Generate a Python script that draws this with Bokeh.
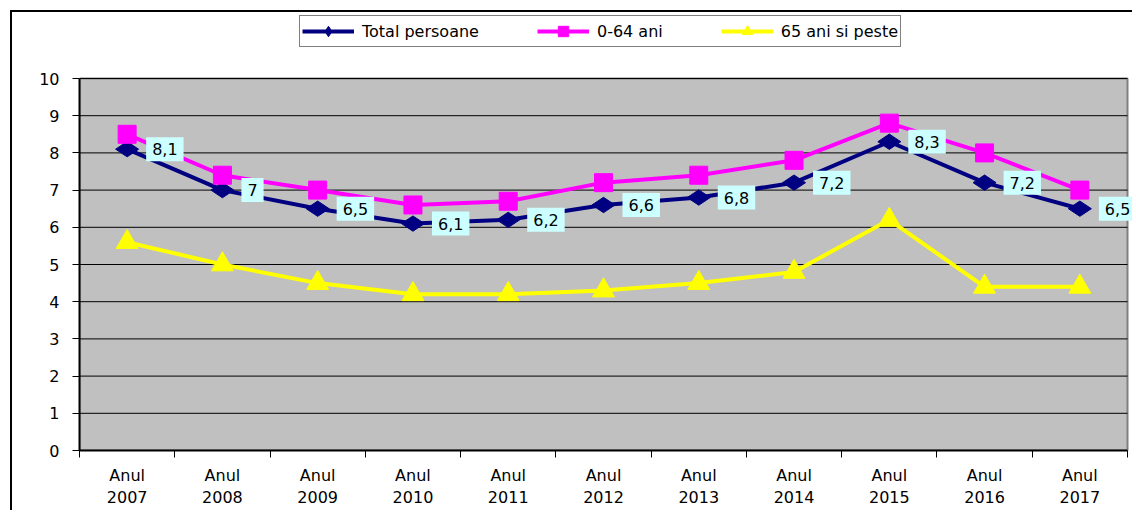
import numpy as np
from bokeh.plotting import figure
from bokeh.models import (FixedTicker, Legend, LegendItem, ColumnDataSource, Range1d)
from bokeh.core.properties import value
from bokeh.embed import file_html
from bokeh.resources import INLINE

years = ["2007", "2008", "2009", "2010", "2011", "2012", "2013", "2014", "2015", "2016", "2017"]
total = [8.1, 7.0, 6.5, 6.1, 6.2, 6.6, 6.8, 7.2, 8.3, 7.2, 6.5]
age_0_64 = [8.5, 7.4, 7.0, 6.6, 6.7, 7.2, 7.4, 7.8, 8.8, 8.0, 7.0]
age_65 = [5.6, 5.0, 4.5, 4.2, 4.2, 4.3, 4.5, 4.8, 6.2, 4.4, 4.4]
series_names = ["Total persoane", "0-64 ani", "65 ani si peste"]
y_ticks = [0, 1, 2, 3, 4, 5, 6, 7, 8, 9, 10]
y_max = 10

FONT = "DejaVu Sans"
FS = "16px"

n = len(years)
xs = list(range(n))

# layout (pixels)
W, H = 1122, 500
LEFT, BOTTOM = 67, 62
PLOT_W, PLOT_H = 1048, 372          # the grey plotting area 0..10
frame_w = W - LEFT
frame_h = H - BOTTOM
x_end = -0.5 + frame_w * n / PLOT_W
y_end = frame_h * y_max / PLOT_H

p = figure(width=W, height=H, output_backend="svg", toolbar_location=None,
           x_range=Range1d(-0.5, x_end), y_range=Range1d(0, y_end),
           min_border_left=LEFT, min_border_right=0, min_border_top=0, min_border_bottom=BOTTOM,
           background_fill_color="white", border_fill_color="white")
p.styles = {"border-left": "2px solid black", "border-top": "2px solid black",
            "margin-left": "10px", "margin-top": "10px"}
p.outline_line_color = None
p.xgrid.visible = False
p.ygrid.visible = False

# grey plot area with grey top/right outline
p.quad(left=[-0.5], right=[n - 0.5], bottom=[0], top=[y_max],
       fill_color="#C0C0C0", line_color="#808080", line_width=2)
# horizontal gridlines
p.segment(x0=[-0.5] * len(y_ticks), x1=[n - 0.5] * len(y_ticks), y0=y_ticks, y1=y_ticks,
          line_color="black", line_width=1)

# y axis
p.yaxis.bounds = (0, y_max)
p.yaxis.ticker = FixedTicker(ticks=y_ticks, minor_ticks=[])
p.yaxis.axis_line_color = "black"
p.yaxis.axis_line_width = 2
p.yaxis.major_tick_out = 7
p.yaxis.major_tick_in = 0
p.yaxis.major_tick_line_color = "black"
p.yaxis.minor_tick_line_color = None
p.yaxis.major_label_standoff = 13
p.yaxis.major_label_text_font = FONT
p.yaxis.major_label_text_font_size = FS
p.yaxis.major_label_text_color = "black"

# x axis
p.xaxis.bounds = (-0.5, n - 0.5)
p.xaxis.ticker = FixedTicker(ticks=xs, minor_ticks=[i - 0.5 for i in range(n + 1)])
p.xaxis.major_label_overrides = {i: "Anul\n" + y for i, y in enumerate(years)}
p.xaxis.axis_line_color = "black"
p.xaxis.axis_line_width = 2
p.xaxis.major_tick_out = 0
p.xaxis.major_tick_in = 0
p.xaxis.minor_tick_out = 7
p.xaxis.minor_tick_in = 0
p.xaxis.minor_tick_line_color = "black"
p.xaxis.major_label_standoff = 8
p.xaxis.major_label_text_font = FONT
p.xaxis.major_label_text_font_size = FS
p.xaxis.major_label_text_color = "black"

src = ColumnDataSource(dict(x=xs, total=total, a=age_0_64, b=age_65,
                            lab=[f"{v:g}".replace(".", ",") for v in total]))

LW = 4
l1 = p.line("x", "total", source=src, line_color="#000080", line_width=LW)
m1 = p.scatter("x", "total", source=src, marker="diamond", size=23, angle=np.pi / 2,
               fill_color="#000080", line_color="#000080")
l2 = p.line("x", "a", source=src, line_color="#FF00FF", line_width=LW)
m2 = p.scatter("x", "a", source=src, marker="square", size=18,
               fill_color="#FF00FF", line_color="#FF00FF")
l3 = p.line("x", "b", source=src, line_color="#FFFF00", line_width=LW)
m3 = p.scatter("x", "b", source=src, marker="triangle", size=22,
               fill_color="#FFFF00", line_color="#FFFF00")

# data labels for total
p.text("x", "total", text="lab", source=src, x_offset=19, y_offset=0,
       text_align="left", text_baseline="middle",
       text_font=value(FONT), text_font_size=FS, text_color="black",
       background_fill_color="#CCFFFF",
       padding=dict(left=6, right=6, top=6, bottom=6))

legend = Legend(items=[LegendItem(label=series_names[0], renderers=[l1, m1]),
                       LegendItem(label=series_names[1], renderers=[l2, m2]),
                       LegendItem(label=series_names[2], renderers=[l3, m3])],
                orientation="horizontal", location=(220, 403),
                border_line_color="black", border_line_width=1,
                background_fill_color="white", background_fill_alpha=1,
                label_text_font=FONT, label_text_font_size=FS, label_text_color="black",
                glyph_width=52, glyph_height=26, padding=2, spacing=58,
                label_standoff=8, margin=0)
p.add_layout(legend, "center")

open("out.html", "w").write(file_html(p, INLINE))
